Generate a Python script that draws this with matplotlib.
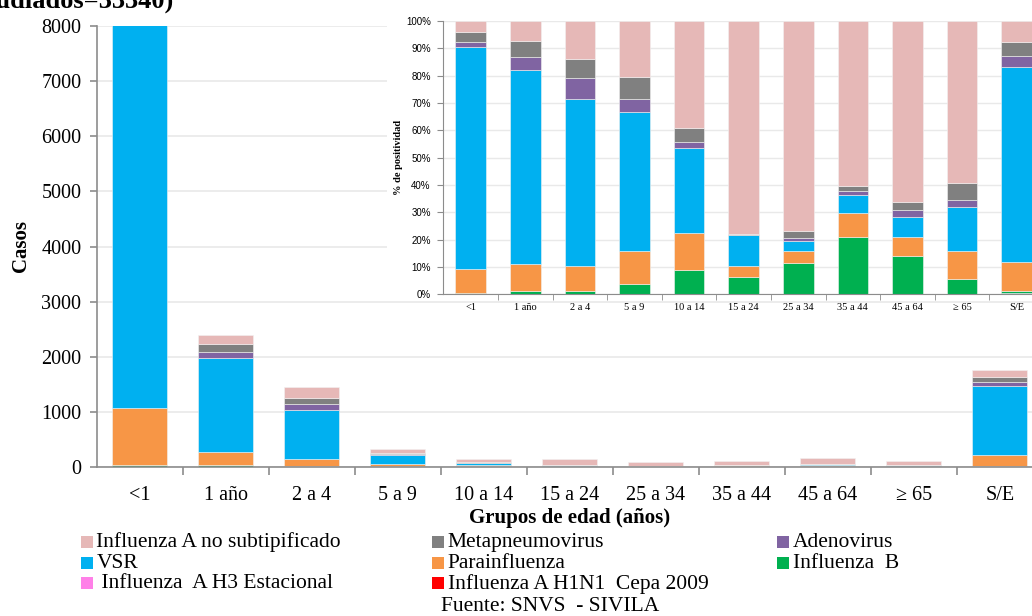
import matplotlib
matplotlib.use("Agg")
import matplotlib.pyplot as plt
from matplotlib.patches import Rectangle
import numpy as np

# ---------------- data ----------------
categories = ["<1", "1 año", "2 a 4", "5 a 9", "10 a 14", "15 a 24",
              "25 a 34", "35 a 44", "45 a 64", "\u2265 65", "S/E"]

series_names = ["Influenza A H1N1  Cepa 2009", " Influenza  A H3 Estacional",
                "Influenza  B", "Parainfluenza", "VSR", "Adenovirus",
                "Metapneumovirus", "Influenza A no subtipificado"]
series_colors = ["#FF0000", "#FF80E8", "#00B050", "#F79646", "#00B0F0",
                 "#8064A2", "#808080", "#E6B8B7"]

# main chart: number of cases
h1n1_cases  = [0, 0, 0, 0, 0, 0, 0, 0, 0, 0, 0]
h3_cases    = [0, 0, 0, 0, 0, 0, 0, 0, 0, 0, 9]
fluB_cases  = [45, 29, 17, 12, 13, 9, 10, 23, 23, 6, 11]
para_cases  = [1020, 240, 131, 38, 19, 6, 4, 10, 11, 11, 189]
vsr_cases   = [9180, 1702, 895, 162, 44, 15, 3, 7, 12, 18, 1263]
adeno_cases = [230, 118, 108, 16, 3, 0, 1, 2, 4, 3, 69]
meta_cases  = [420, 139, 103, 25, 7, 1, 2, 2, 5, 7, 90]
fluA_cases  = [440, 172, 203, 65, 54, 109, 65, 66, 108, 65, 135]

# inset: % de positividad
h1n1_pct  = [0, 0, 0, 0, 0, 0, 0, 0, 0, 0, 0]
h3_pct    = [0, 0, 0, 0, 0, 0, 0, 0, 0, 0, 0.5]
fluB_pct  = [0.4, 1.2, 1.2, 3.8, 9.0, 6.5, 11.5, 20.9, 14.1, 5.7, 0.6]
para_pct  = [9.0, 10.0, 9.0, 12.1, 13.3, 4.0, 4.4, 8.9, 6.9, 10.2, 10.7]
vsr_pct   = [81.0, 70.9, 61.4, 50.8, 31.1, 11.1, 3.7, 6.4, 7.3, 15.9, 71.5]
adeno_pct = [2.0, 4.9, 7.4, 4.9, 2.2, 0.2, 1.0, 1.6, 2.4, 2.6, 3.9]
meta_pct  = [3.7, 5.8, 7.1, 7.9, 5.3, 0.3, 2.4, 1.8, 3.1, 6.3, 5.1]
fluA_pct  = [3.9, 7.2, 13.9, 20.5, 39.1, 77.9, 77.0, 60.4, 66.2, 59.3, 7.7]

yticks_main = [0, 1000, 2000, 3000, 4000, 5000, 6000, 7000, 8000]
yticks_inset = [0, 10, 20, 30, 40, 50, 60, 70, 80, 90, 100]

cases = [h1n1_cases, h3_cases, fluB_cases, para_cases, vsr_cases,
         adeno_cases, meta_cases, fluA_cases]
pcts = [h1n1_pct, h3_pct, fluB_pct, para_pct, vsr_pct,
        adeno_pct, meta_pct, fluA_pct]

SERIF = ["Liberation Serif", "DejaVu Serif"]
SANS = ["Liberation Sans", "DejaVu Sans"]
plt.rcParams["font.family"] = SERIF

W, H = 1032, 616
fig = plt.figure(figsize=(W / 100, H / 100), dpi=100)

def fx(px):
    return px / W

def fy(py):
    return 1 - py / H

x = np.arange(len(categories))
spine_col = "#8C8C8C"
grid_col = "#E9E9E9"

# ---------------- main axes ----------------
ax = fig.add_axes([fx(96.7), fy(467), fx(1042.7) - fx(96.7), fy(26) - fy(467)])
bottom = np.zeros(len(categories))
for vals, col in zip(cases, series_colors):
    v = np.array(vals, dtype=float)
    ax.bar(x, v, bottom=bottom, width=0.64, color=col, edgecolor="#F2F2F2",
           linewidth=0.4, zorder=2)
    bottom += v
ax.set_ylim(0, 8000)
ax.set_xlim(-0.5, len(categories) - 0.5)
ax.set_yticks(yticks_main)
ax.set_yticklabels([str(t) for t in yticks_main], fontsize=14.5)
ax.set_xticks(x)
ax.set_xticklabels(categories, fontsize=14.5)
ax.set_xticks(np.arange(0.5, len(categories) - 0.5, 1), minor=True)
ax.tick_params(axis="x", which="major", length=0, pad=14)
ax.tick_params(axis="x", which="minor", length=6, color=spine_col, width=1.2)
ax.tick_params(axis="y", length=5, color=spine_col, width=1.2, pad=6)
ax.yaxis.grid(True, color=grid_col, linewidth=1.2, zorder=0)
ax.set_axisbelow(True)
for s in ["top", "right"]:
    ax.spines[s].set_visible(False)
for s in ["left", "bottom"]:
    ax.spines[s].set_color(spine_col)
    ax.spines[s].set_linewidth(1.2)
ax.set_ylabel("Casos", fontsize=15, fontweight="bold")
ax.yaxis.set_label_coords((31 - 96.7) / 946, 0.5)
ax.set_xlabel("Grupos de edad (años)", fontsize=15, fontweight="bold")
ax.xaxis.set_label_coords(0.5, (467 - 508) / 441)

# white box behind the inset
ax.add_patch(Rectangle((fx(387), fy(299)), fx(W) - fx(387), fy(0) - fy(299),
                       transform=fig.transFigure, facecolor="white",
                       edgecolor="none", zorder=3, clip_on=False))

# ---------------- inset axes ----------------
ia = fig.add_axes([fx(443.3), fy(294.3), fx(1044) - fx(443.3), fy(21) - fy(294.3)],
                  zorder=5)
ia.set_facecolor("white")
bottom = np.zeros(len(categories))
for vals, col in zip(pcts, series_colors):
    v = np.array(vals, dtype=float)
    ia.bar(x, v, bottom=bottom, width=0.56, color=col, edgecolor="#F2F2F2",
           linewidth=0.4, zorder=2)
    bottom += v
ia.set_ylim(0, 100)
ia.set_xlim(-0.5, len(categories) - 0.5)
ia.set_yticks(yticks_inset)
ia.set_yticklabels([f"{t}%" for t in yticks_inset], fontsize=7, family=SANS)
ia.set_xticks(x)
ia.set_xticklabels(categories, fontsize=7.5)
ia.set_xticks(np.arange(0.5, len(categories) - 0.5, 1), minor=True)
ia.tick_params(axis="x", which="major", length=0, pad=6)
ia.tick_params(axis="x", which="minor", length=4, color=spine_col)
ia.tick_params(axis="y", length=4, color=spine_col, pad=5)
ia.yaxis.grid(True, color=grid_col, linewidth=1.0, zorder=0)
ia.set_axisbelow(True)
for s in ["top", "right"]:
    ia.spines[s].set_visible(False)
for s in ["left", "bottom"]:
    ia.spines[s].set_color(spine_col)
ia.set_ylabel("% de positividad", fontsize=7.5, fontweight="bold")
ia.yaxis.set_label_coords((403 - 443.3) / 600.7, 0.5)

# ---------------- title (cut at top, as in the reference) ----------------
fig.text(fx(173), fy(8), "Casos positivos por grupo de edad (n estudiados=33340)",
         ha="right", va="baseline", fontsize=19, fontweight="bold")

# ---------------- legend ----------------
legend_order = [7, 6, 5, 4, 3, 2, 1, 0]
col_x = [81, 432.3, 777.3]
row_y = [541.8, 562.5, 583.2]
for k, idx in enumerate(legend_order):
    r, c = divmod(k, 3)
    x0 = col_x[c]
    yc = row_y[r]
    fig.patches.append(Rectangle((fx(x0), fy(yc + 6)), fx(12), 12 / H,
                                 transform=fig.transFigure,
                                 facecolor=series_colors[idx], edgecolor="none"))
    fig.text(fx(x0 + 15.5), fy(yc + 0.5), series_names[idx], ha="left",
             va="center", fontsize=15.5)

fig.text(fx(441), fy(611), "Fuente: SNVS  - SIVILA", ha="left", va="baseline",
         fontsize=15.5)

fig.savefig("out.png", dpi=100)
